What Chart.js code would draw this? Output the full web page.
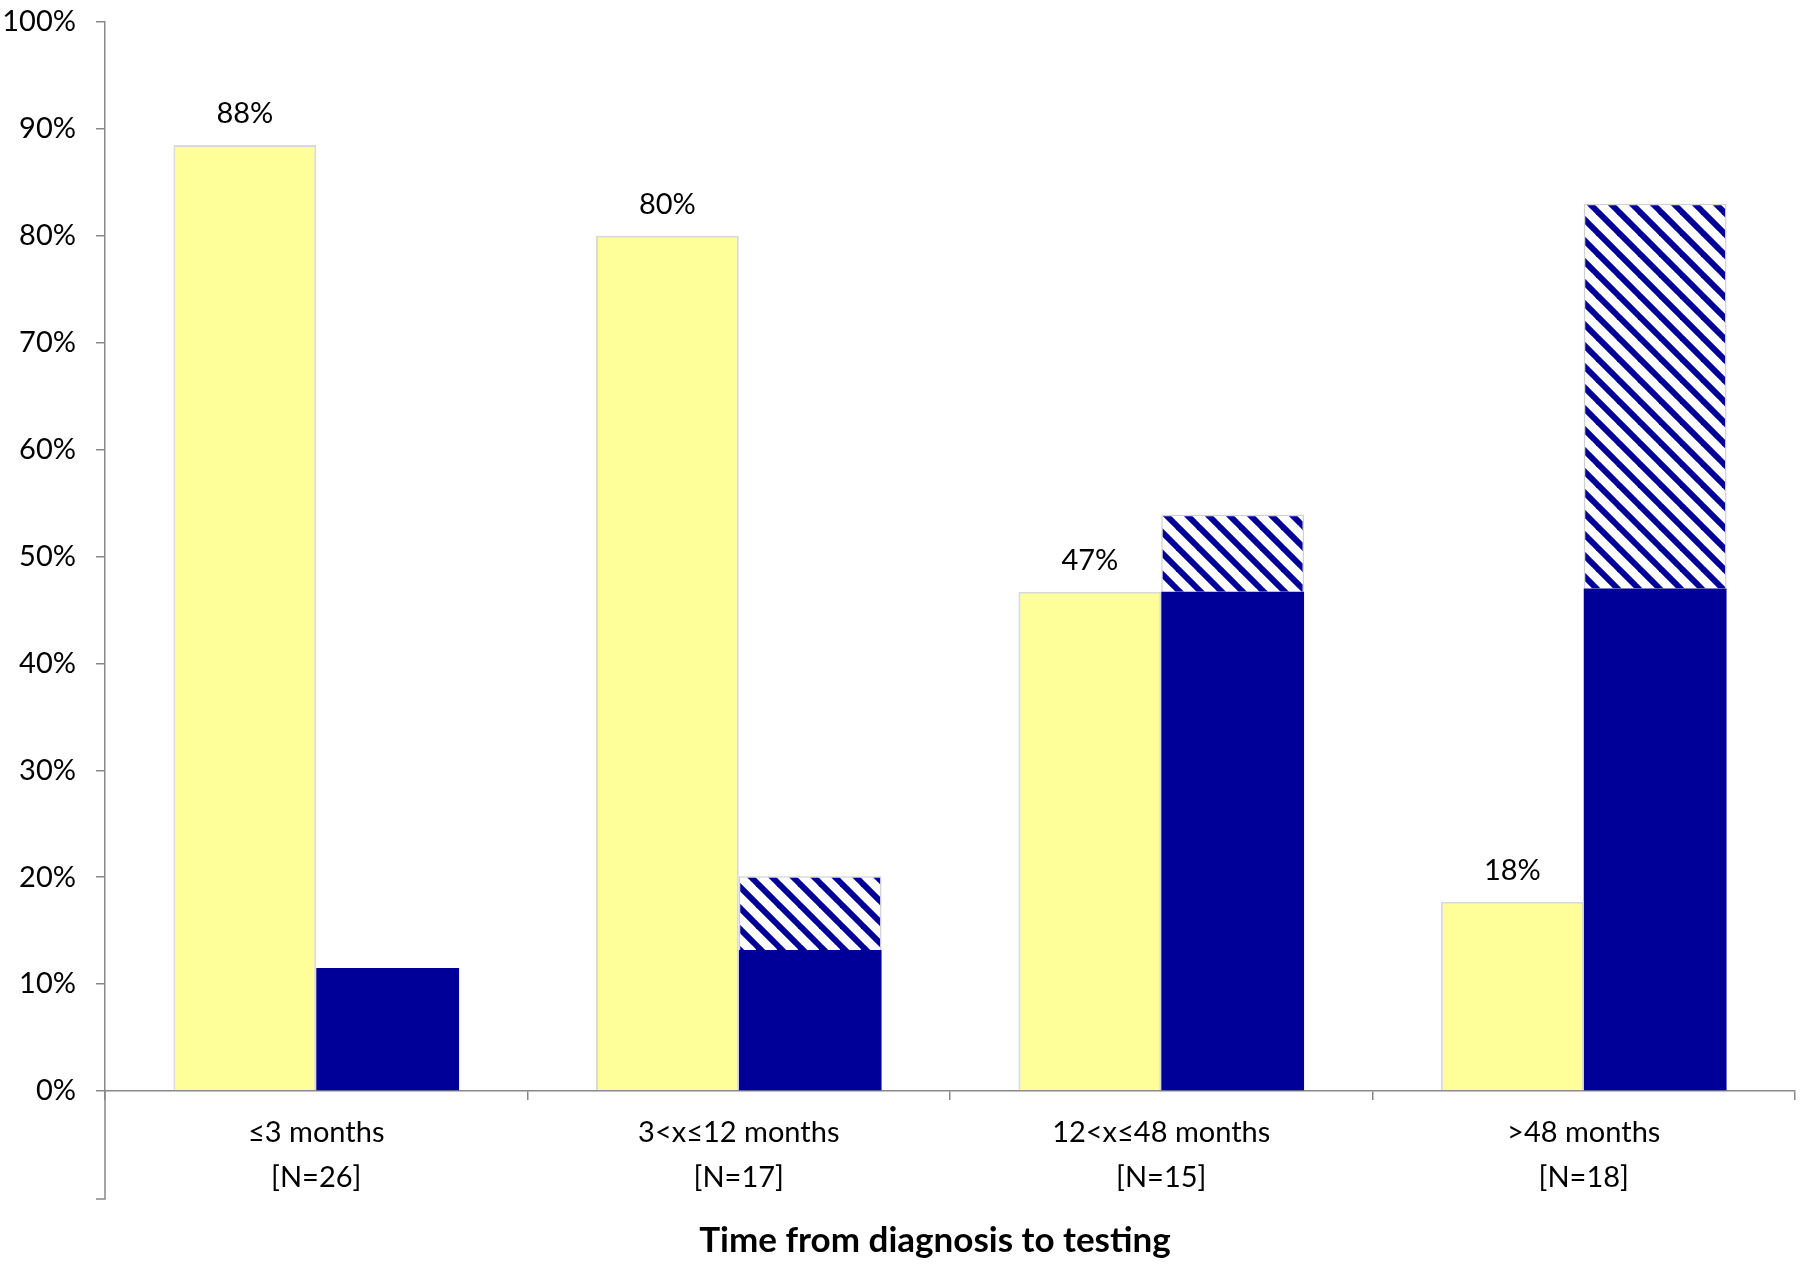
<!DOCTYPE html>
<html>
<head>
<meta charset="utf-8">
<script src="https://cdn.jsdelivr.net/npm/chart.js@4.4.1/dist/chart.umd.min.js"></script>
<style>
  html, body { margin: 0; padding: 0; background: #ffffff; }
  #wrap { width: 1807px; height: 1269px; }
</style>
</head>
<body>
<div id="wrap"><canvas id="c" width="1807" height="1269"></canvas></div>
<script>
// ---- data ----
const categories = [
  ['\u22643 months', '[N=26]'],
  ['3<x\u226412 months', '[N=17]'],
  ['12<x\u226448 months', '[N=15]'],
  ['>48 months', '[N=18]']
];
const yellowValues = [88.5, 80.0, 46.7, 17.7];
const yellowLabels = ['88%', '80%', '47%', '18%'];
const blueSolidValues = [11.5, 13.2, 46.7, 47.0];
const blueHatchedValues = [0, 6.9, 7.2, 36.0];
const yTicks = [0, 10, 20, 30, 40, 50, 60, 70, 80, 90, 100];
const xTitle = 'Time from diagnosis to testing';

const FONT = 'Lato, "Open Sans", sans-serif';
const BLUE = '#000099';

function makeHatch() {
  const s = 21;
  const c = document.createElement('canvas');
  c.width = s; c.height = s;
  const g = c.getContext('2d');
  g.fillStyle = '#ffffff';
  g.fillRect(0, 0, s, s);
  g.strokeStyle = BLUE;
  g.lineWidth = 6;
  for (const off of [-s, 0, s]) {
    g.beginPath();
    g.moveTo(off - 2, -2);
    g.lineTo(off + s + 2, s + 2);
    g.stroke();
  }
  return g.createPattern(c, 'repeat');
}

const labelPlugin = {
  id: 'barLabels',
  afterDatasetsDraw(chart) {
    const ctx = chart.ctx;
    const meta = chart.getDatasetMeta(0);
    ctx.save();
    ctx.fillStyle = '#000';
    ctx.font = '29px ' + FONT;
    ctx.textAlign = 'center';
    ctx.textBaseline = 'middle';
    meta.data.forEach((bar, i) => {
      ctx.fillText(yellowLabels[i], bar.x, bar.y - 31);
    });
    ctx.restore();
  }
};

const axisExtPlugin = {
  id: 'axisExt',
  afterDraw(chart) {
    const ctx = chart.ctx;
    const x = chart.scales.x;
    const left = chart.chartArea.left;
    ctx.save();
    ctx.strokeStyle = '#888888';
    ctx.lineWidth = 1.5;
    ctx.beginPath();
    ctx.moveTo(left, chart.chartArea.bottom);
    ctx.lineTo(left, x.bottom);
    ctx.lineTo(left - 9, x.bottom);
    ctx.stroke();
    // axis title
    ctx.fillStyle = '#000';
    ctx.font = 'bold 35px ' + FONT;
    ctx.textAlign = 'center';
    ctx.textBaseline = 'middle';
    ctx.fillText(xTitle, (chart.chartArea.left + chart.chartArea.right) / 2 - 15, 1241);
    ctx.restore();
  }
};

new Chart(document.getElementById('c'), {
  type: 'bar',
  data: {
    labels: categories,
    datasets: [
      {
        data: yellowValues,
        stack: 'a',
        backgroundColor: '#FFFF99',
        borderColor: '#D9D9D9',
        borderWidth: 2,
        borderSkipped: 'bottom'
      },
      {
        data: blueSolidValues,
        stack: 'b',
        backgroundColor: BLUE,
        borderWidth: 0
      },
      {
        data: blueHatchedValues,
        stack: 'b',
        backgroundColor: makeHatch(),
        borderColor: '#D0D0D0',
        borderWidth: 1.5,
        borderSkipped: 'bottom'
      }
    ]
  },
  options: {
    responsive: false,
    animation: false,
    devicePixelRatio: 1,
    layout: { padding: { top: 22, right: 12, left: 0, bottom: 70 } },
    datasets: { bar: { categoryPercentage: 0.676, barPercentage: 1.0 } },
    plugins: {
      legend: { display: false },
      tooltip: { enabled: false },
      title: { display: false }
    },
    scales: {
      x: {
        stacked: true,
        grid: { display: true, drawOnChartArea: false, drawTicks: true, tickLength: 9, color: '#888888', lineWidth: 1.5, offset: true },
        border: { color: '#888888', width: 1.5 },
        ticks: { color: '#000', font: { family: FONT, size: 29, lineHeight: 1.55 }, padding: 10, maxRotation: 0, autoSkip: false },
        afterFit(scale) { scale.height = 108; }
      },
      y: {
        stacked: true,
        min: 0, max: 100,
        afterBuildTicks(scale) { scale.ticks = yTicks.map(v => ({ value: v })); },
        grid: { display: true, drawOnChartArea: false, drawTicks: true, tickLength: 9, color: '#888888', lineWidth: 1.5 },
        border: { color: '#888888', width: 1.5 },
        ticks: { color: '#000', font: { family: FONT, size: 29 }, padding: 20, callback: v => v + '%' },
        afterFit(scale) { scale.width = 105; scale.paddingTop = 0; scale.paddingBottom = 0; }
      }
    }
  },
  plugins: [labelPlugin, axisExtPlugin]
});
</script>
</body>
</html>
